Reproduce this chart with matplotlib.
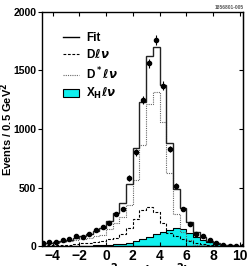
import matplotlib.pyplot as plt
import numpy as np
from matplotlib.lines import Line2D
from matplotlib.patches import Patch

plt.rcParams["font.family"] = ["Liberation Sans", "DejaVu Sans"]
plt.rcParams["font.weight"] = "bold"
plt.rcParams["mathtext.fontset"] = "dejavusans"

# histogram: 0.5 GeV^2 bins, centres -4.75 ... 10.25
bin_lo, bin_w = -5.0, 0.5
data = [25, 35, 38, 55, 60, 85, 80, 105, 140, 165, 195, 275, 315, 580, 800,
        1250, 1560, 1760, 1370, 830, 515, 316, 191, 105, 90, 50, 28, 5, 3, 2, 2]
data_err = [5, 6, 6, 7, 8, 9, 9, 10, 12, 13, 14, 17, 18, 24, 28,
            35, 40, 42, 37, 29, 23, 18, 14, 10, 9, 7, 5, 2, 2, 1, 1]
fit = [25, 30, 35, 45, 55, 70, 85, 100, 125, 150, 214, 282, 368, 530, 838,
       1234, 1625, 1704, 1377, 880, 490, 325, 202, 117, 75, 45, 25, 12, 6, 3, 2]
d_lnu = [5, 6, 8, 10, 13, 17, 22, 28, 35, 45, 60, 72, 100, 150, 230,
         310, 333, 290, 200, 115, 85, 60, 40, 25, 14, 8, 4, 2, 1, 1, 0]
dstar_lnu = [18, 22, 25, 33, 40, 50, 60, 68, 85, 97, 142, 195, 250, 352, 562,
             862, 1212, 1314, 1060, 628, 275, 120, 54, 12, 10, 6, 4, 2, 1, 0, 1]
xh_lnu = [2, 2, 2, 2, 2, 3, 3, 4, 5, 8, 12, 15, 18, 28, 46,
          62, 80, 100, 117, 137, 151, 148, 108, 80, 51, 31, 17, 8, 4, 2, 1]

n = len(data)
edges = bin_lo + bin_w * np.arange(n + 1)
centres = edges[:-1] + bin_w / 2

fig = plt.figure(figsize=(2.48, 2.66), dpi=100)
ax = fig.add_axes([0.169, 0.075, 0.811, 0.880])

cyan = "#10f0ee"
ax.stairs(xh_lnu, edges, fill=True, color=cyan, zorder=1)
ax.stairs(xh_lnu, edges, color="black", lw=0.8, zorder=2)
ax.stairs(dstar_lnu, edges, color="#666666", lw=0.8, ls=(0, (1, 1)), zorder=3)
ax.stairs(d_lnu, edges, color="black", lw=0.8, ls=(0, (2.5, 1.5)), zorder=3)
ax.stairs(fit, edges, color="#222222", lw=1.0, zorder=4)
ax.errorbar(centres, data, yerr=data_err, fmt="o", color="black", ms=3,
            elinewidth=0.8, capsize=0, zorder=5)

ax.set_xlim(-4.8, 10.25)
ax.set_ylim(0, 2000)
ax.set_xticks([-4, -2, 0, 2, 4, 6, 8, 10])
ax.set_yticks([0, 500, 1000, 1500, 2000])
ax.tick_params(axis="x", direction="in", length=3, labelsize=10, pad=2,
               top=True)
ax.tick_params(axis="y", direction="out", length=3, labelsize=7.5, pad=1)
for lbl in ax.get_xticklabels() + ax.get_yticklabels():
    lbl.set_fontweight("bold")
for s in ax.spines.values():
    s.set_linewidth(1.0)

sec = ax.secondary_yaxis("right")
sec.set_yticks([500, 1000, 1500])
sec.tick_params(direction="in", length=3, labelright=False)

ax.set_ylabel("Events / 0.5 GeV$^\\mathbf{2}$", fontsize=8, fontweight="bold")
ax.yaxis.set_label_coords(-0.135, 0.5)

handles = [
    Line2D([], [], color="black", lw=1.0),
    Line2D([], [], color="black", lw=0.8, ls=(0, (2.5, 1.5))),
    Line2D([], [], color="#666666", lw=0.8, ls=(0, (1, 1))),
    Patch(facecolor=cyan, edgecolor="black", lw=0.8),
]
labels = ["Fit", r"D$\ell\nu$", r"D$^*\ell\nu$", r"X$_\mathbf{H}\ell\nu$"]
ax.legend(handles, labels, loc="upper left", bbox_to_anchor=(0.05, 0.96),
          frameon=False, handlelength=1.4, handletextpad=0.6,
          labelspacing=0.35, prop={"weight": "bold", "size": 8.5})

fig.text(0.985, 0.972, "1856801-005", fontsize=3.5, color="#555555",
         ha="right", va="center")
fig.text(0.58, -0.042, r"M$^\mathbf{2}_{\rm miss}$  (GeV$^\mathbf{2}$)",
         fontsize=10, fontweight="bold", ha="center", va="baseline")

fig.savefig("out.png", dpi=100)
